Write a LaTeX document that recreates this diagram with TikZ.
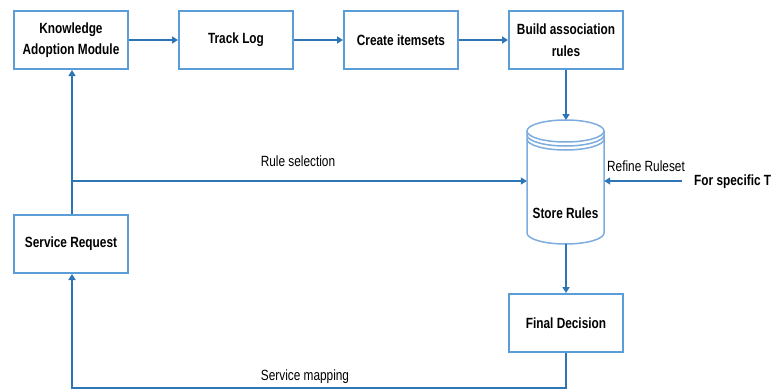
\documentclass[tikz,border=0pt]{standalone}
\usepackage{fontspec}
\setmainfont{Liberation Sans}[FakeStretch=0.8]
\usetikzlibrary{arrows.meta}
\definecolor{linec}{RGB}{46,117,182}
\definecolor{boxc}{RGB}{91,157,216}
\definecolor{cylc}{RGB}{125,172,222}
\tikzset{
  procbox/.style={draw=boxc, line width=2pt, fill=white, minimum width=114pt, minimum height=58pt, inner sep=2pt, align=center, font=\fontsize{14.8}{21.5}\selectfont\bfseries},
  conn/.style={draw=linec, line width=1.8pt, -{Triangle[length=6pt,width=7pt]}},
  lbl/.style={font=\fontsize{14.8}{17}\selectfont, inner sep=0pt},
}
\begin{document}
\begin{tikzpicture}[x=1pt,y=-1pt]
\useasboundingbox (0,0) rectangle (772,391);
\node[procbox] (kam) at (71,40) {Knowledge\\Adoption Module};
\node[procbox] (track) at (236,40) {Track Log};
\node[procbox] (create) at (401,40) {Create itemsets};
\node[procbox] (build) at (566,40) {Build association\\rules};
\node[procbox] (sr) at (71,244) {Service Request};
\node[procbox] (final) at (566,323) {Final Decision};
% cylinder
\node[minimum width=77pt, minimum height=124pt, inner sep=0pt] (cyl) at (565.5,182) {};
\begin{scope}[draw=cylc, line width=1.5pt]
\draw (527,131) -- (527,233) arc[start angle=180, end angle=360, x radius=38.5, y radius=-11] -- (604,131);
\draw (565.5,131) ellipse[x radius=38.5, y radius=11];
\draw (527,135) arc[start angle=180, end angle=360, x radius=38.5, y radius=-11];
\draw (527,139) arc[start angle=180, end angle=360, x radius=38.5, y radius=-11];
\end{scope}
\node[font=\fontsize{14.8}{17}\selectfont\bfseries, inner sep=0pt] (storelbl) at (565.5,213) {Store Rules};
\node[font=\fontsize{14.8}{17}\selectfont\bfseries, inner sep=0pt, anchor=west] (fst) at (694,182) {For specific T};
\coordinate (fsstart) at (682,181);
\coordinate (branch) at (72,181);
\coordinate (c1) at (566,388);
\coordinate (c2) at (72,388);
% connectors
\draw[conn] (kam) -- (track);
\draw[conn] (track) -- (create);
\draw[conn] (create) -- (build);
\draw[conn] (build.south) -- (566,120);
\draw[conn] (sr.north -| branch) -- (kam.south -| branch);
\draw[conn] (branch) -- (cyl.west |- branch);
\draw[conn] (fsstart) -- (cyl.east |- fsstart);
\draw[conn] (566,244) -- (final.north);
\draw[conn] (final.south) -- (c1) -- (c2) -- (sr.south -| c2);
% labels
\node[lbl] (rulesel) at (298,161) {Rule selection};
\node[lbl] (refine) at (646,166) {Refine Ruleset};
\node[lbl] (smap) at (305,377) {Service mapping};
\end{tikzpicture}
\end{document}
